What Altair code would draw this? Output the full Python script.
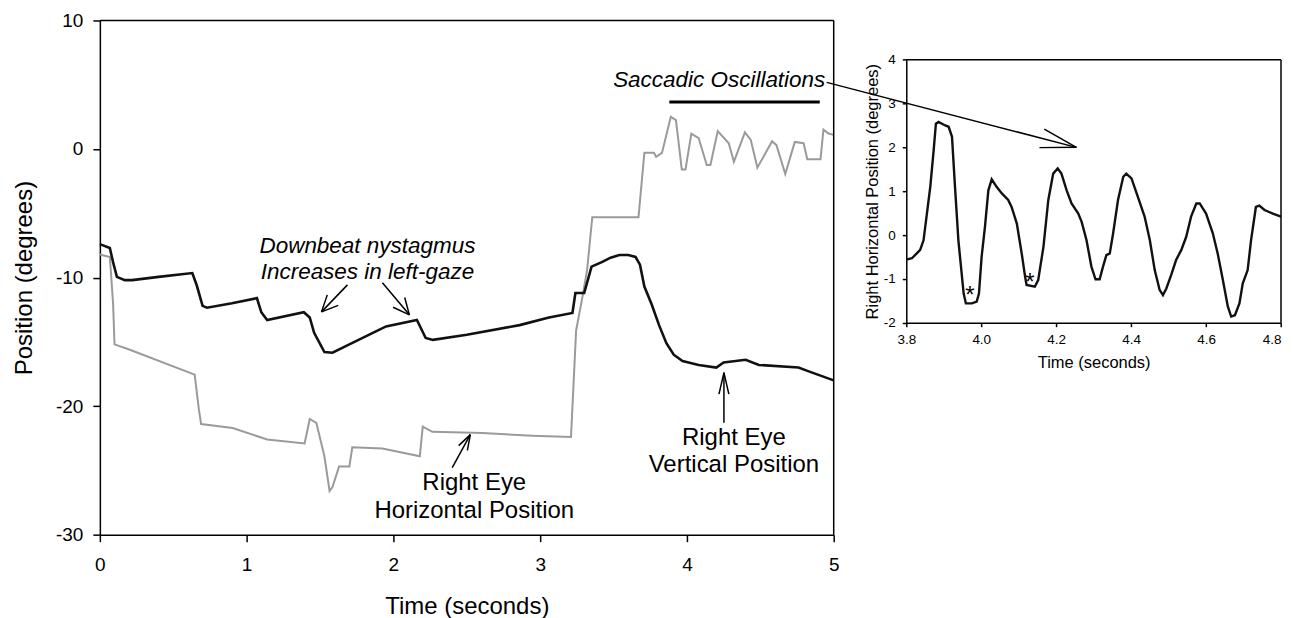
import math
import altair as alt
import pandas as pd

FONT = "Liberation Sans"

# ---------------- data ----------------
# Right eye vertical position (black trace), main panel
vert_t = [0, 0.068, 0.09, 0.116, 0.17, 0.22, 0.40, 0.63, 0.66, 0.70, 0.73, 0.90, 1.07, 1.10, 1.14,
          1.39, 1.43, 1.46, 1.53, 1.585, 1.70, 1.86, 1.95, 2.16, 2.22, 2.27, 2.50, 2.86, 3.06, 3.22,
          3.24, 3.30, 3.35, 3.42, 3.48, 3.54, 3.60, 3.65, 3.68, 3.71, 3.76, 3.81, 3.86, 3.91, 3.97, 4.08,
          4.20, 4.25, 4.40, 4.49, 4.76, 4.83, 5.0]
vert_v = [-7.4, -7.7, -8.8, -9.95, -10.2, -10.2, -9.95, -9.65, -10.6, -12.2, -12.35, -12.0, -11.6, -12.7, -13.3,
          -12.7, -13.1, -14.3, -15.8, -15.85, -15.2, -14.3, -13.8, -13.3, -14.7, -14.85, -14.45, -13.7, -13.1, -12.75,
          -11.2, -11.2, -9.15, -8.8, -8.45, -8.25, -8.25, -8.4, -9.0, -10.7, -12.1, -13.7, -15.1, -16.0, -16.5, -16.8,
          -17.0, -16.6, -16.4, -16.8, -17.0, -17.3, -18.0]

# Right eye horizontal position (gray trace), main panel
horiz_t = [0, 0.068, 0.09, 0.10, 0.20, 0.646, 0.675, 0.69, 0.905, 1.14, 1.395, 1.43, 1.475, 1.53, 1.565,
           1.585, 1.63, 1.70, 1.72, 1.925, 2.18, 2.20, 2.265, 2.605, 2.945, 3.21, 3.245, 3.285, 3.32, 3.355,
           3.67, 3.71, 3.775, 3.79, 3.83, 3.89, 3.925, 3.965, 3.99, 4.03, 4.08, 4.135, 4.16, 4.21, 4.285,
           4.32, 4.395, 4.435, 4.48, 4.58, 4.61, 4.67, 4.735, 4.795, 4.82, 4.91, 4.93, 4.965, 5.0]
horiz_v = [-8.2, -8.4, -12.0, -15.2, -15.6, -17.55, -20.3, -21.4, -21.7, -22.6, -22.9, -21.0, -21.3, -23.9, -26.6,
           -26.3, -24.7, -24.7, -23.2, -23.3, -23.9, -21.6, -22.0, -22.1, -22.3, -22.4, -14.1, -11.7, -9.4, -5.3,
           -5.3, -0.3, -0.3, -0.6, -0.3, 2.5, 2.25, -1.6, -1.6, 1.2, 0.85, -1.25, -1.25, 1.4, 0.45,
           -1.0, 1.3, 0.7, -1.45, 0.6, 0.3, -1.95, 0.55, 0.45, -0.8, -0.8, 1.5, 1.2, 1.1]

# Inset: right horizontal position 3.8 - 4.8 s
inset_t = [3.8, 3.815, 3.828, 3.837, 3.846, 3.855, 3.864, 3.873, 3.879, 3.886, 3.904, 3.913, 3.922, 3.93, 3.939,
           3.953, 3.959, 3.975, 3.988, 3.994, 4.001, 4.01, 4.019, 4.028, 4.041, 4.055, 4.072, 4.081, 4.095, 4.108,
           4.117, 4.121, 4.143, 4.152, 4.166, 4.179, 4.192, 4.204, 4.214, 4.228, 4.241, 4.259, 4.268, 4.281, 4.294,
           4.305, 4.316, 4.325, 4.334, 4.343, 4.352, 4.365, 4.379, 4.387, 4.401, 4.418, 4.436, 4.45, 4.463, 4.476,
           4.485, 4.494, 4.507, 4.52, 4.534, 4.547, 4.56, 4.574, 4.583, 4.6, 4.618, 4.631, 4.645, 4.658, 4.667,
           4.677, 4.689, 4.698, 4.711, 4.72, 4.733, 4.742, 4.756, 4.778, 4.8]
inset_v = [-0.56, -0.53, -0.42, -0.34, -0.12, 0.49, 1.1, 1.93, 2.54, 2.58, 2.5, 2.47, 2.24, 1.1, -0.12,
           -1.33, -1.56, -1.56, -1.52, -1.33, -0.5, 0.19, 1.02, 1.27, 1.1, 0.95, 0.8, 0.64, 0.26, -0.42,
           -0.95, -1.14, -1.18, -1.03, -0.27, 0.8, 1.4, 1.52, 1.4, 1.02, 0.72, 0.49, 0.3, -0.12, -0.72,
           -1.01, -1.01, -0.72, -0.46, -0.42, 0.04, 0.8, 1.33, 1.4, 1.29, 0.87, 0.42, -0.12, -0.8, -1.25,
           -1.37, -1.22, -0.91, -0.57, -0.34, -0.04, 0.42, 0.72, 0.72, 0.49, 0.04, -0.42, -1.03, -1.63, -1.86,
           -1.83, -1.56, -1.1, -0.8, -0.12, 0.64, 0.67, 0.57, 0.49, 0.42]

main_x_ticks = [0, 1, 2, 3, 4, 5]
main_y_ticks = [-30, -20, -10, 0, 10]
inset_x_ticks = [3.8, 4.0, 4.2, 4.4, 4.6, 4.8]
inset_y_ticks = [-2, -1, 0, 1, 2, 3, 4]

# annotation texts (data coordinates)
italic_labels = ["Downbeat nystagmus", "Increases in left-gaze", "Saccadic Oscillations"]
italic_x = [1.823, 1.823, 4.22]
italic_y = [-8.08, -10.14, 4.82]
plain_labels = ["Right Eye", "Horizontal Position", "Right Eye", "Vertical Position"]
plain_x = [2.551, 2.551, 4.32, 4.32]
plain_y = [-26.5, -28.67, -23.0, -25.1]
star_x = [3.97, 4.13]
star_y = [-1.25, -0.95]

# ---------------- layout ----------------
MAIN_W, MAIN_H = 735, 515
INSET_W, INSET_H = 375.3, 302.7
INSET_TOP = 39.3
SPACING = 72.7

main_sx = MAIN_W / 5.0
main_sy = MAIN_H / 40.0
inset_sx = INSET_W / 1.0
inset_sy = (INSET_H - INSET_TOP) / 6.0


def arrow(t0, v0, t1, v1, sx, sy, head, ang):
    dx = (t1 - t0) * sx
    dy = (v1 - v0) * sy
    L = math.hypot(dx, dy)
    ux, uy = -dx / L, -dy / L
    segs = [(t0, v0, t1, v1)]
    for s in (1, -1):
        a = math.radians(ang * s)
        rx = ux * math.cos(a) - uy * math.sin(a)
        ry = ux * math.sin(a) + uy * math.cos(a)
        segs.append((t1, v1, t1 + rx * head / sx, v1 + ry * head / sy))
    return segs


main_segs = [(0, 10, 5, 10), (5, -30, 5, 10)]
main_segs += arrow(1.687, -10.57, 1.51, -12.67, main_sx, main_sy, 18, 25)
main_segs += arrow(1.925, -10.41, 2.109, -12.9, main_sx, main_sy, 18, 25)
main_segs += arrow(2.401, -24.79, 2.524, -22.22, main_sx, main_sy, 16, 18)
main_segs += arrow(4.252, -21.29, 4.252, -17.40, main_sx, main_sy, 22, 13)
bar_segs = [(3.88, 3.65, 4.905, 3.65)]

inset_segs = [(3.8, 4, 4.8, 4), (4.8, -2, 4.8, 4)]
inset_segs += arrow(3.5876, 3.483, 4.254, 2.0, inset_sx, inset_sy, 37, 15)


def seg_df(segs):
    return pd.DataFrame(segs, columns=["x", "y", "x2", "y2"])


HYPHEN_LABEL = "datum.value < 0 ? '-' + format(abs(datum.value), 'd') : format(datum.value, 'd')"


def axis(values, fmt, title, lab_fs, title_fs, tick, lab_pad, title_pad, **kw):
    return alt.Axis(values=values, format=fmt, title=title, grid=False,
                    labelFont=FONT, labelFontSize=lab_fs, labelColor="black",
                    titleFont=FONT, titleFontSize=title_fs, titleFontWeight="normal", titleColor="black",
                    tickColor="black", tickSize=tick, tickWidth=1.5,
                    domainColor="black", domainWidth=1.5,
                    labelPadding=lab_pad, titlePadding=title_pad, labelFlush=False, **kw)


MX_AXIS = axis(main_x_ticks, "d", "Time (seconds)", 19, 24, 7, 14, 20)
MY_AXIS = axis(main_y_ticks, "d", "Position (degrees)", 19, 24, 7, 10, 19, labelExpr=HYPHEN_LABEL)
IX_AXIS = axis(inset_x_ticks, ".1f", "Time (seconds)", 13.5, 16.5, 4, 6, 8,
               labelAlign={"expr": "datum.value > 4.75 ? 'right' : 'center'"})
IY_AXIS = axis(inset_y_ticks, "d", "Right Horizontal Position (degrees)", 13.5, 16.5, 4, 7, 3,
               labelExpr=HYPHEN_LABEL)


def mx(f):
    return alt.X(f, type="quantitative", scale=alt.Scale(domain=[0, 5], nice=False, zero=False), axis=MX_AXIS)


def my(f):
    return alt.Y(f, type="quantitative", scale=alt.Scale(domain=[-30, 10], nice=False, zero=False), axis=MY_AXIS)


def ix(f):
    return alt.X(f, type="quantitative", scale=alt.Scale(domain=[3.8, 4.8], nice=False, zero=False), axis=IX_AXIS)


def iy(f):
    return alt.Y(f, type="quantitative",
                 scale=alt.Scale(domain=[-2, 4], nice=False, zero=False, range=[INSET_H, INSET_TOP]),
                 axis=IY_AXIS)


# ---------------- main panel ----------------
gray_line = alt.Chart(pd.DataFrame({"t": horiz_t, "v": horiz_v})).mark_line(
    color="#9a9a9a", strokeWidth=2).encode(x=mx("t"), y=my("v"), order="t:Q")
black_line = alt.Chart(pd.DataFrame({"t": vert_t, "v": vert_v})).mark_line(
    color="#111111", strokeWidth=2.6).encode(x=mx("t"), y=my("v"), order="t:Q")
main_rules = alt.Chart(seg_df(main_segs)).mark_rule(color="black", strokeWidth=1.5).encode(
    x=mx("x"), y=my("y"), x2="x2:Q", y2="y2:Q")
bar_rule = alt.Chart(seg_df(bar_segs)).mark_rule(color="black", strokeWidth=3).encode(
    x=mx("x"), y=my("y"), x2="x2:Q", y2="y2:Q")
italic_text = alt.Chart(pd.DataFrame({"x": italic_x, "y": italic_y, "label": italic_labels})).mark_text(
    font=FONT, fontSize=22.5, fontStyle="italic", color="black", align="center", baseline="alphabetic"
).encode(x=mx("x"), y=my("y"), text="label:N")
plain_text = alt.Chart(pd.DataFrame({"x": plain_x, "y": plain_y, "label": plain_labels})).mark_text(
    font=FONT, fontSize=24, color="black", align="center", baseline="alphabetic"
).encode(x=mx("x"), y=my("y"), text="label:N")

main = alt.layer(gray_line, black_line, main_rules, bar_rule, italic_text, plain_text).properties(
    width=MAIN_W, height=MAIN_H)

# ---------------- inset panel ----------------
inset_line = alt.Chart(pd.DataFrame({"t": inset_t, "v": inset_v})).mark_line(
    color="#111111", strokeWidth=2.4).encode(x=ix("t"), y=iy("v"), order="t:Q")
inset_rules = alt.Chart(seg_df(inset_segs)).mark_rule(color="black", strokeWidth=1.5).encode(
    x=ix("x"), y=iy("y"), x2="x2:Q", y2="y2:Q")
stars = alt.Chart(pd.DataFrame({"x": star_x, "y": star_y, "label": ["*", "*"]})).mark_text(
    font=FONT, fontSize=24, color="black", align="center", baseline="alphabetic", dy=13
).encode(x=ix("x"), y=iy("y"), text="label:N")

inset = alt.layer(inset_line, inset_rules, stars).properties(width=INSET_W, height=INSET_H)

chart = alt.hconcat(main, inset, spacing=SPACING, bounds="flush",
                    padding={"left": 4, "top": 3, "right": -1, "bottom": 0}
                    ).configure_view(stroke=None)

chart.save("out.html", embed_options={"renderer": "svg", "actions": False})
